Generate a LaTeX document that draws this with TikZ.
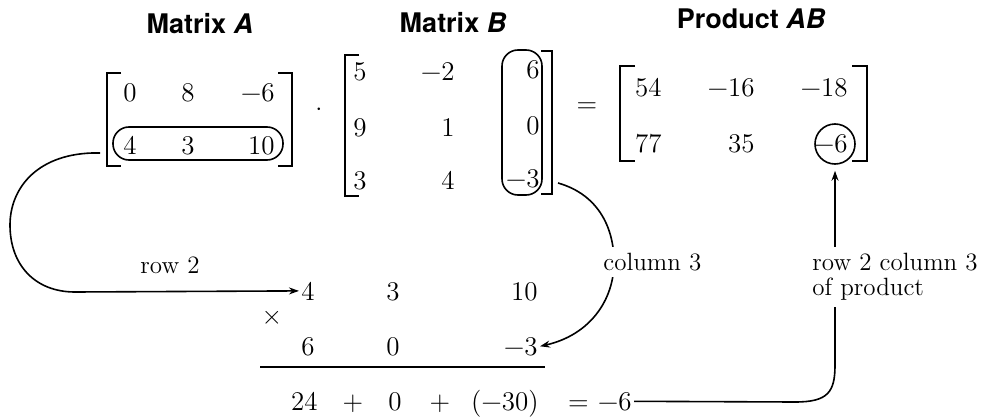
\documentclass[tikz,border=0pt]{standalone}
\usepackage{fontspec}
\usepackage{tikz}
\usetikzlibrary{arrows.meta}
\newfontfamily\headfont{TeX Gyre Heros}

\tikzset{
  entry/.style={inner sep=1pt, anchor=base east},
  title/.style={anchor=base, font={\fontsize{13.5}{16}\headfont\bfseries}},
  lbl/.style={inner sep=3pt, font={\fontsize{12.5}{12.5}\selectfont}},
  pill/.style={draw, rectangle, rounded corners=8pt, inner sep=0pt, line width=0.8pt},
  brak/.style={line width=1pt},
  link/.style={line width=0.8pt, -{Stealth[length=5pt,width=3.5pt]}}
}

\begin{document}
\begin{tikzpicture}[x=0.5pt, y=-0.5pt, font=\fontsize{13.5}{16}\selectfont]
\useasboundingbox (0,0) rectangle (989,417);
% titles
\node[title] (tA) at (200,34) {Matrix \textit{A}};
\node[title] (tB) at (453,33) {Matrix \textit{B}};
\node[title] (tP) at (751,29) {Product \textit{AB}};
% matrix A
\node[entry] (a11) at (139,102) {0};
\node[entry] (a12) at (197,102) {8};
\node[entry] (a13) at (277,102) {−6};
\node[entry] (a21) at (139,155) {4};
\node[entry] (a22) at (197,155) {3};
\node[entry] (a23) at (277,155) {10};
\draw[brak] (121,73) -- (107,73) -- (107,166) -- (121,166);
\draw[brak] (278,73) -- (292,73) -- (292,166) -- (278,166);
\node[pill, minimum width=85pt, minimum height=16.5pt] (rowA) at (198,143.5) {};
\node (dot) at (319,113) {·};
% matrix B
\node[entry] (b11) at (369,81) {5};
\node[entry] (b12) at (457,81) {−2};
\node[entry] (b13) at (542,79) {6};
\node[entry] (b21) at (369,136) {9};
\node[entry] (b22) at (457,136) {1};
\node[entry] (b23) at (542,134) {0};
\node[entry] (b31) at (369,189) {3};
\node[entry] (b32) at (457,189) {4};
\node[entry] (b33) at (542,187) {−3};
\draw[brak] (359,55) -- (345,55) -- (345,196) -- (359,196);
\draw[brak] (541,51) -- (552,51) -- (552,194) -- (541,194);
\node[pill, minimum width=20pt, minimum height=72.5pt] (colB) at (522,122.5) {};
\node (eq) at (587,108) {=};
% product
\node[entry] (p11) at (664,97) {54};
\node[entry] (p12) at (757,97) {−16};
\node[entry] (p13) at (850,97) {−18};
\node[entry] (p21) at (664,152) {77};
\node[entry] (p22) at (757,152) {35};
\node[entry] (p23) at (850,152) {−6};
\draw[brak] (635,66) -- (620,66) -- (620,161) -- (635,161);
\draw[brak] (852,66) -- (867,66) -- (867,161) -- (852,161);
\node[draw, circle, minimum size=20pt, inner sep=0pt, line width=0.8pt] (ring) at (835,144) {};
% row times column
\node[entry] (r1) at (317,300) {4};
\node[entry] (r2) at (402,300) {3};
\node[entry] (r3) at (540,300) {10};
\node (times) at (272,318) {×};
\node[entry] (c1) at (317,355) {6};
\node[entry] (c2) at (402,355) {0};
\node[entry] (c3) at (540,355) {−3};
\draw[brak] (260,367) -- (545,367);
\node[entry] (s1) at (320,410) {24};
\node[anchor=base] (plus1) at (353,410) {+};
\node[entry] (s2) at (404,410) {0};
\node[anchor=base] (plus2) at (440,410) {+};
\node[entry] (s3) at (541,410) {(−30)};
\node[entry] (res) at (634,410) {=\,\,−6};
% connectors
\coordinate (rowout) at (100,153);
\coordinate (colout) at (558,183);
\draw[link] (rowout) -- (92,153) .. controls (35,155) and (10,190) .. (10,225)
  .. controls (10,265) and (35,292) .. (75,292) -- (r1.west);
\draw[link] (colout) .. controls (600,195) and (614,230) .. (614,262)
  .. controls (614,300) and (590,335) .. (c3.east);
\draw[link, shorten >=3pt] (res.east) -- (795,402) .. controls (828,402) and (835,392) .. (835,365)
  -- (ring.south);
% labels
\node[lbl, anchor=base west] (rowlbl) at (134,273) {row 2};
\node[lbl, fill=white, anchor=base west] (collbl) at (597,270) {column 3};
\node[lbl, fill=white, align=left, anchor=north west] (prodlbl) at (806,247) {row 2 column 3\\of product};
\end{tikzpicture}
\end{document}
